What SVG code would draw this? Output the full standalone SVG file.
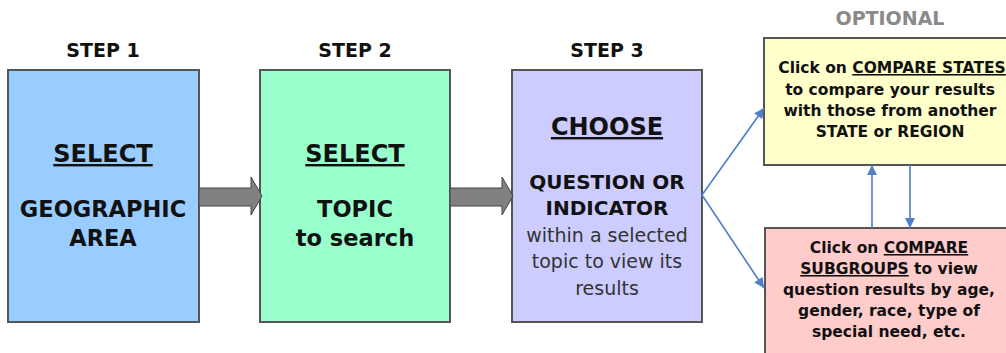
<svg xmlns="http://www.w3.org/2000/svg" width="1006" height="353" viewBox="0 0 1006 353">
<style>
.box{stroke:#555;stroke-width:2}
.t{font-family:"DejaVu Sans",Verdana,sans-serif;font-weight:bold;fill:#111;text-anchor:middle}
.n{font-family:"DejaVu Sans",Verdana,sans-serif;fill:#333;text-anchor:middle}
.u{text-decoration:underline}
.step{font-size:19px}
.big{font-size:24px}
.med{font-size:22.5px}
.sm{font-size:15.5px}
.blk{fill:#808080;stroke:#444;stroke-width:1}
.con{stroke:#4f7fc8;stroke-width:1.6;fill:none}
</style>
<defs>
<marker id="ah" viewBox="0 0 10 10" refX="10" refY="5" markerWidth="11" markerHeight="10" markerUnits="userSpaceOnUse" orient="auto">
<path d="M0,0 L10,5 L0,10 z" fill="#4f7fc8"/>
</marker>
</defs>
<rect width="1006" height="353" fill="#fff"/>
<text class="t step" x="103" y="57">STEP 1</text>
<text class="t step" x="355" y="57">STEP 2</text>
<text class="t step" x="607" y="57">STEP 3</text>
<text class="t step" x="890" y="25" style="fill:#8a8a8a">OPTIONAL</text>

<g id="step1">
<rect class="box" x="8" y="70" width="191" height="252" fill="#99ccff"/>
<text class="t big u" x="103" y="162">SELECT</text>
<text class="t med" x="103" y="217">GEOGRAPHIC</text>
<text class="t med" x="103" y="246">AREA</text>
</g>
<g id="step2">
<rect class="box" x="260" y="70" width="190" height="252" fill="#99ffcc"/>
<text class="t big u" x="355" y="162">SELECT</text>
<text class="t med" x="355" y="217">TOPIC</text>
<text class="t med" x="355" y="246">to search</text>
</g>
<g id="step3">
<rect class="box" x="512" y="70" width="190" height="252" fill="#ccccff"/>
<text class="t big u" x="607" y="135">CHOOSE</text>
<text class="t" x="607" y="189" style="font-size:20px">QUESTION OR</text>
<text class="t" x="607" y="215" style="font-size:20px">INDICATOR</text>
<text class="n" x="607" y="242" style="font-size:19px">within a selected</text>
<text class="n" x="607" y="268" style="font-size:19px">topic to view its</text>
<text class="n" x="607" y="295" style="font-size:19px">results</text>
</g>
<g id="compare-states">
<rect class="box" x="764" y="38" width="260" height="127" fill="#ffffcc"/>
<text class="t sm" x="892" y="73">Click on <tspan class="u">COMPARE STATES</tspan></text>
<text class="t sm" x="890" y="95">to compare your results</text>
<text class="t sm" x="890" y="116">with those from another</text>
<text class="t sm" x="890" y="137">STATE or REGION</text>
</g>
<g id="compare-subgroups">
<rect class="box" x="765" y="228" width="260" height="140" fill="#ffcccc"/>
<text class="t sm" x="889" y="253">Click on <tspan class="u">COMPARE</tspan></text>
<text class="t sm" x="889" y="274"><tspan class="u">SUBGROUPS</tspan> to view</text>
<text class="t sm" x="889" y="295">question results by age,</text>
<text class="t sm" x="889" y="316">gender, race, type of</text>
<text class="t sm" x="889" y="337">special need, etc.</text>
</g>
<g id="connectors">
<path class="blk" d="M199,188 H251 V177 L262,196 L251,215 V206 H199 z"/>
<path class="blk" d="M450,188 H502 V177 L513,196 L502,215 V206 H450 z"/>
<line class="con" x1="702" y1="195" x2="764" y2="108" marker-end="url(#ah)"/>
<line class="con" x1="702" y1="195" x2="764" y2="288" marker-end="url(#ah)"/>
<line class="con" x1="872" y1="228" x2="872" y2="165" marker-end="url(#ah)"/>
<line class="con" x1="910" y1="165" x2="910" y2="228" marker-end="url(#ah)"/>
</g>
</svg>
